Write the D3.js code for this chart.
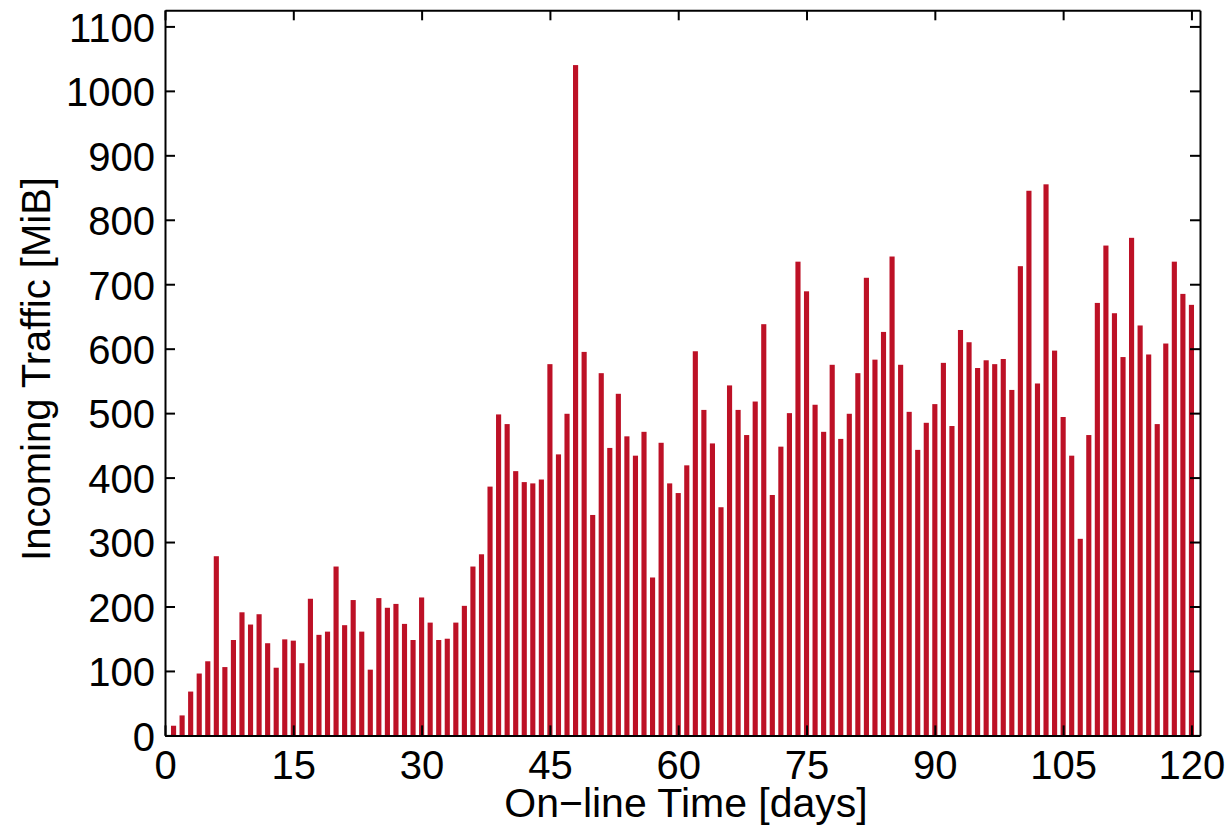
<!DOCTYPE html>
<html>
<head>
<meta charset="utf-8">
<script src="https://cdn.jsdelivr.net/npm/d3@7"></script>
<style>
  html, body { margin: 0; padding: 0; background: #fff; }
  svg { display: block; }
  text { font-family: "Liberation Sans", Arial, sans-serif; }
</style>
</head>
<body>
<svg id="svg"></svg>
<script>
// daily incoming traffic [MiB], days 1..120
const days = d3.range(1, 121);
const traffic = [
   15,  31,  68,  96, 115, 278, 106, 148, 191, 172,
  188, 143, 105, 149, 147, 112, 212, 156, 161, 262,
  171, 210, 161, 102, 213, 198, 204, 173, 148, 214,
  175, 148, 150, 175, 201, 262, 281, 386, 498, 483,
  410, 393, 391, 397, 576, 436, 499,1040, 595, 342,
  562, 446, 530, 464, 434, 471, 245, 454, 391, 376,
  419, 596, 505, 453, 354, 543, 505, 466, 518, 638,
  373, 448, 500, 735, 689, 513, 471, 575, 460, 499,
  562, 710, 583, 626, 743, 575, 502, 443, 485, 514,
  578, 480, 629, 610, 570, 582, 576, 584, 536, 728,
  845, 546, 855, 597, 494, 434, 305, 466, 671, 760,
  655, 587, 772, 636, 591, 483, 608, 735, 685, 668
];
const xTicks = [0, 15, 30, 45, 60, 75, 90, 105, 120];
const yTicks = d3.range(0, 1101, 100);

const layout = {"width": 1228, "height": 827,
                "left": 165, "right": 1200, "top": 10.3, "bottom": 735.4};

const svg = d3.select("#svg")
  .attr("width", layout.width)
  .attr("height", layout.height);

const xScale = d3.scaleLinear()
  .domain([0, 121])
  .range([layout.left, layout.right]);

const yScale = d3.scaleLinear()
  .domain([0, 1125])
  .range([layout.bottom, layout.top]);

const barW = xScale(0.6) - xScale(0);

svg.append("g")
  .selectAll("rect")
  .data(days)
  .join("rect")
  .attr("x", (d) => xScale(d) - barW / 2)
  .attr("y", (d, i) => yScale(traffic[i]))
  .attr("width", barW)
  .attr("height", (d, i) => yScale(0) - yScale(traffic[i]))
  .attr("fill", "#bd1126");

function styleAxis(g) {
  g.select(".domain").attr("stroke", "#000").attr("stroke-width", 2);
  g.selectAll(".tick line").attr("stroke", "#000").attr("stroke-width", 2);
  g.selectAll(".tick text").attr("fill", "#000").style("font-size", "40px");
  g.attr("font-family", null).attr("font-size", null);
}

// bottom / top
svg.append("g")
  .attr("transform", `translate(0,${layout.bottom})`)
  .call(d3.axisBottom(xScale).tickValues(xTicks).tickFormat(d3.format("d"))
          .tickSizeInner(-10).tickSizeOuter(0).tickPadding(15))
  .call(styleAxis);

svg.append("g")
  .attr("transform", `translate(0,${layout.top})`)
  .call(d3.axisTop(xScale).tickValues(xTicks).tickSizeInner(-10).tickSizeOuter(0).tickFormat(""))
  .call(styleAxis);

// left / right
svg.append("g")
  .attr("transform", `translate(${layout.left},0)`)
  .call(d3.axisLeft(yScale).tickValues(yTicks).tickFormat(d3.format("d"))
          .tickSizeInner(-10).tickSizeOuter(0).tickPadding(10))
  .call(styleAxis)
  .selectAll(".tick text").attr("dy", "0.37em");

svg.append("g")
  .attr("transform", `translate(${layout.right},0)`)
  .call(d3.axisRight(yScale).tickValues(yTicks).tickSizeInner(-10).tickSizeOuter(0).tickFormat(""))
  .call(styleAxis);

svg.append("text")
  .attr("x", 686)
  .attr("y", 817)
  .attr("text-anchor", "middle")
  .style("font-size", "41px")
  .text("On\u2212line Time [days]");

svg.append("text")
  .attr("transform", `translate(50,369) rotate(-90)`)
  .attr("text-anchor", "middle")
  .style("font-size", "40px")
  .text("Incoming Traffic [MiB]");
</script>
</body>
</html>
